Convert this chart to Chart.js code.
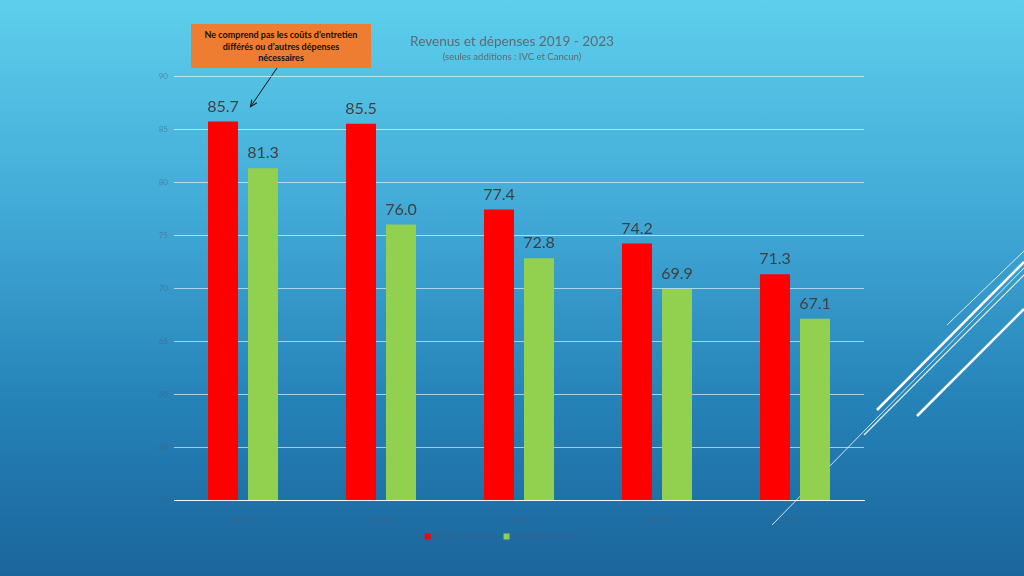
<!DOCTYPE html>
<html>
<head>
<meta charset="utf-8">
<script src="https://cdn.jsdelivr.net/npm/chart.js@4/dist/chart.umd.min.js"></script>
<style>
  html, body { margin: 0; padding: 0; }
  body {
    width: 1024px; height: 576px; overflow: hidden; position: relative;
    background: linear-gradient(to bottom, #5ecfec 0%, #3fa6d4 40%, #2582b7 70%, #1b659c 100%);
    font-family: Lato, "Open Sans", sans-serif;
  }
  #wrap { position: absolute; left: 0; top: 0; width: 1024px; height: 576px; }
  #deco { position: absolute; left: 0; top: 0; }
  .title { position: absolute; left: 312px; width: 400px; text-align: center; color: #5a6b78; }
  #t1 { top: 33px; font-size: 13.6px; }
  #t2 { top: 51px; font-size: 9.5px; }
  #note {
    position: absolute; left: 191px; top: 24px; width: 180px; height: 44px;
    background: #ee7d31; color: #111; font-weight: bold; font-size: 9px;
    text-align: center; line-height: 11.5px; box-sizing: border-box; padding-top: 5px;
  }
</style>
</head>
<body>
<svg id="deco" width="1024" height="576">
  <defs>
    <marker id="arr" markerWidth="8" markerHeight="8" refX="6" refY="4" orient="auto">
      <path d="M0,1 L7,4 L0,7" fill="none" stroke="#111" stroke-width="1"/>
    </marker>
  </defs>
  <line x1="947" y1="325" x2="1024" y2="251" stroke="#fff" stroke-opacity="0.8" stroke-width="1"/>
  <line x1="877" y1="410" x2="1024" y2="262" stroke="#fff" stroke-width="2.5"/>
  <line x1="864" y1="435" x2="1024" y2="275" stroke="#fff" stroke-opacity="0.9" stroke-width="1.2"/>
  <line x1="772" y1="525" x2="1024" y2="268" stroke="#fff" stroke-opacity="0.8" stroke-width="1"/>
  <line x1="917" y1="416" x2="1024" y2="309" stroke="#fff" stroke-width="2.5"/>
  <line x1="277" y1="68" x2="251" y2="106" stroke="#111" stroke-width="1" marker-end="url(#arr)"/>
</svg>
<div id="wrap"><canvas id="c" width="1024" height="576"></canvas></div>
<div class="title" id="t1">Revenus et dépenses 2019 - 2023</div>
<div class="title" id="t2">(seules additions : IVC et Cancun)</div>
<div id="note">Ne comprend pas les coûts d’entretien<br>différés ou d’autres dépenses<br>nécessaires</div>
<script>
var years = ['2019', '2020', '2021', '2022', '2023'];
var expenses = [85.7, 85.5, 77.4, 74.2, 71.3];
var revenues = [81.3, 76.0, 72.8, 69.9, 67.1];
var seriesNames = ['Total Expenses', 'Total Revenues'];

var valueLabels = {
    id: 'valueLabels',
    afterDatasetsDraw: function(chart) {
        var ctx = chart.ctx;
        ctx.save();
        ctx.font = '16px Lato, "Open Sans", sans-serif';
        ctx.fillStyle = '#404040';
        ctx.textAlign = 'center';
        ctx.textBaseline = 'bottom';
        chart.data.datasets.forEach(function(ds, i) {
            chart.getDatasetMeta(i).data.forEach(function(bar, j) {
                ctx.fillText(ds.data[j].toFixed(1), bar.x, bar.y - 7);
            });
        });
        ctx.restore();
    }
};

var tickColor = 'rgba(70,95,125,0.55)';

new Chart(document.getElementById('c').getContext('2d'), {
    type: 'bar',
    data: {
        labels: years,
        datasets: [{
            label: seriesNames[0],
            data: expenses,
            backgroundColor: '#ff0000'
        }, {
            label: seriesNames[1],
            data: revenues,
            backgroundColor: '#92d050'
        }]
    },
    options: {
        responsive: false,
        animation: false,
        categoryPercentage: 0.58,
        barPercentage: 0.75,
        layout: { padding: { left: 134, right: 160, top: 76, bottom: 25 } },
        plugins: {
            title: { display: false },
            tooltip: { enabled: false },
            legend: {
                position: 'bottom',
                labels: {
                    usePointStyle: true,
                    pointStyle: 'rect',
                    boxWidth: 6,
                    boxHeight: 6,
                    padding: 10,
                    color: tickColor,
                    font: { size: 9, family: 'Lato' }
                }
            }
        },
        scales: {
            x: {
                afterFit: function(s) { s.height = 22; },
                grid: { display: false },
                border: { color: 'rgba(255,255,255,0.85)' },
                ticks: { color: tickColor, padding: 9, font: { size: 9, family: 'Lato' } }
            },
            y: {
                min: 50,
                max: 90,
                afterFit: function(s) { s.width = 40; },
                border: { display: false },
                grid: {
                    color: 'rgba(255,255,255,0.6)',
                    drawTicks: false
                },
                ticks: { stepSize: 5, color: tickColor, padding: 6, font: { size: 8, family: 'Lato' } }
            }
        }
    },
    plugins: [valueLabels]
});
</script>
</body>
</html>
